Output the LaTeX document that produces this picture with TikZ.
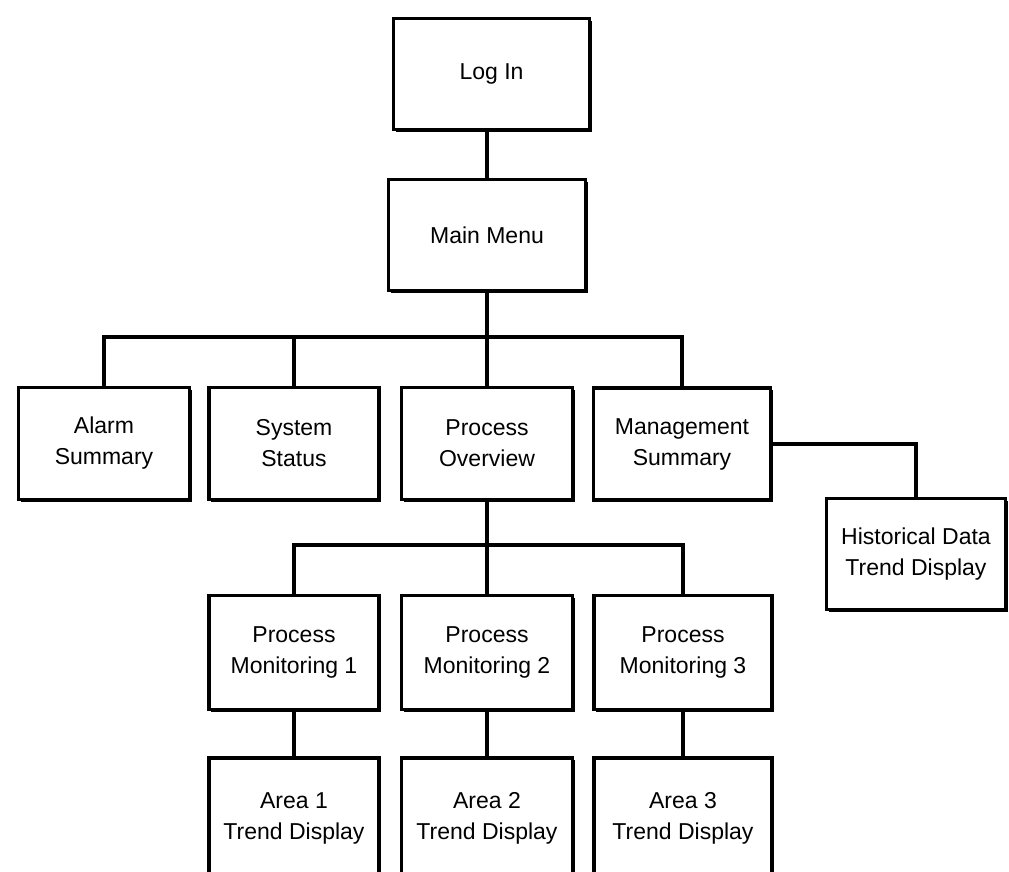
\documentclass[tikz,border=0pt]{standalone}
\usepackage{fontspec}
\setmainfont{Liberation Sans}
\usetikzlibrary{shadows}
\begin{document}
\begin{tikzpicture}[x=1pt,y=-1pt,
  box/.style={draw=black, fill=white, line width=3.5pt, align=center,
    inner sep=0pt, font=\fontsize{23}{31}\selectfont,
    general shadow={shadow xshift=2pt, shadow yshift=-2pt, fill=black}},
  link/.style={draw=black, line width=4pt}]
\useasboundingbox[fill=white] (0,0) rectangle (1009,871);
\node[box, minimum width=196, minimum height=111] (login) at (491.5,74) {Log In};
\node[box, minimum width=197, minimum height=111] (main) at (487,235) {Main Menu};
\node[box, minimum width=171, minimum height=112] (alarm) at (104,443.5) {Alarm\\Summary};
\node[box, minimum width=170, minimum height=112] (system) at (294,443.5) {System\\Status};
\node[box, minimum width=171, minimum height=112] (process) at (487,443.5) {Process\\Overview};
\node[box, minimum width=177, minimum height=112] (mgmt) at (682,444) {Management\\Summary};
\node[box, minimum width=179, minimum height=111] (hist) at (916,554) {Historical Data\\Trend Display};
\node[box, minimum width=170, minimum height=114] (pm1) at (294,652.5) {Process\\Monitoring 1};
\node[box, minimum width=171, minimum height=114] (pm2) at (487,652.5) {Process\\Monitoring 2};
\node[box, minimum width=178, minimum height=114] (pm3) at (683,652.5) {Process\\Monitoring 3};
\node[box, minimum width=170, minimum height=120] (area1) at (294,818) {Area 1\\Trend Display};
\node[box, minimum width=171, minimum height=120] (area2) at (487,818) {Area 2\\Trend Display};
\node[box, minimum width=178, minimum height=120] (area3) at (683,818) {Area 3\\Trend Display};
\coordinate (bus1) at (487,337);
\coordinate (bus2) at (487,545);
\draw[link] (main.north |- login.south) -- (main.north);
\draw[link] (main.south) -- (process.north);
\draw[link] (alarm.north) |- (bus1) -| (mgmt.north);
\draw[link] (system.north) -- (system.north |- bus1);
\draw[link] (mgmt.east) -| (hist.north);
\draw[link] (process.south) -- (pm2.north);
\draw[link] (pm1.north) |- (bus2) -| (pm3.north);
\draw[link] (pm1.south) -- (area1.north);
\draw[link] (pm2.south) -- (area2.north);
\draw[link] (pm3.south) -- (area3.north);
\end{tikzpicture}
\end{document}
